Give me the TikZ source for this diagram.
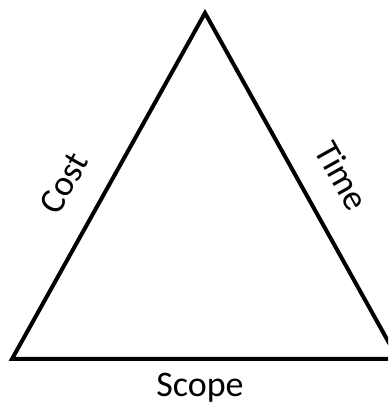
\documentclass[tikz,border=0pt]{standalone}
\usepackage{fontspec}
\setmainfont{Carlito}
\begin{document}
\begin{tikzpicture}[x=1pt,y=1pt,
  edge/.style={line width=4pt,line join=miter},
  lbl/.style={font=\fontsize{36}{40}\selectfont,inner sep=0pt}]
\useasboundingbox (0,0) rectangle (388,406);
\clip (0,0) rectangle (388,406);
\coordinate (top) at (205,393);
\coordinate (bl) at (12,47);
\coordinate (br) at (398,47);
\draw[edge] (top) -- (bl) -- (br) -- cycle;
\node[lbl,rotate=60.8] (cost) at (64,223) {Cost};
\node[lbl,rotate=-60.8] (time) at (342,230) {Time};
\node[lbl] (scope) at (200,18) {Scope};
\end{tikzpicture}
\end{document}
